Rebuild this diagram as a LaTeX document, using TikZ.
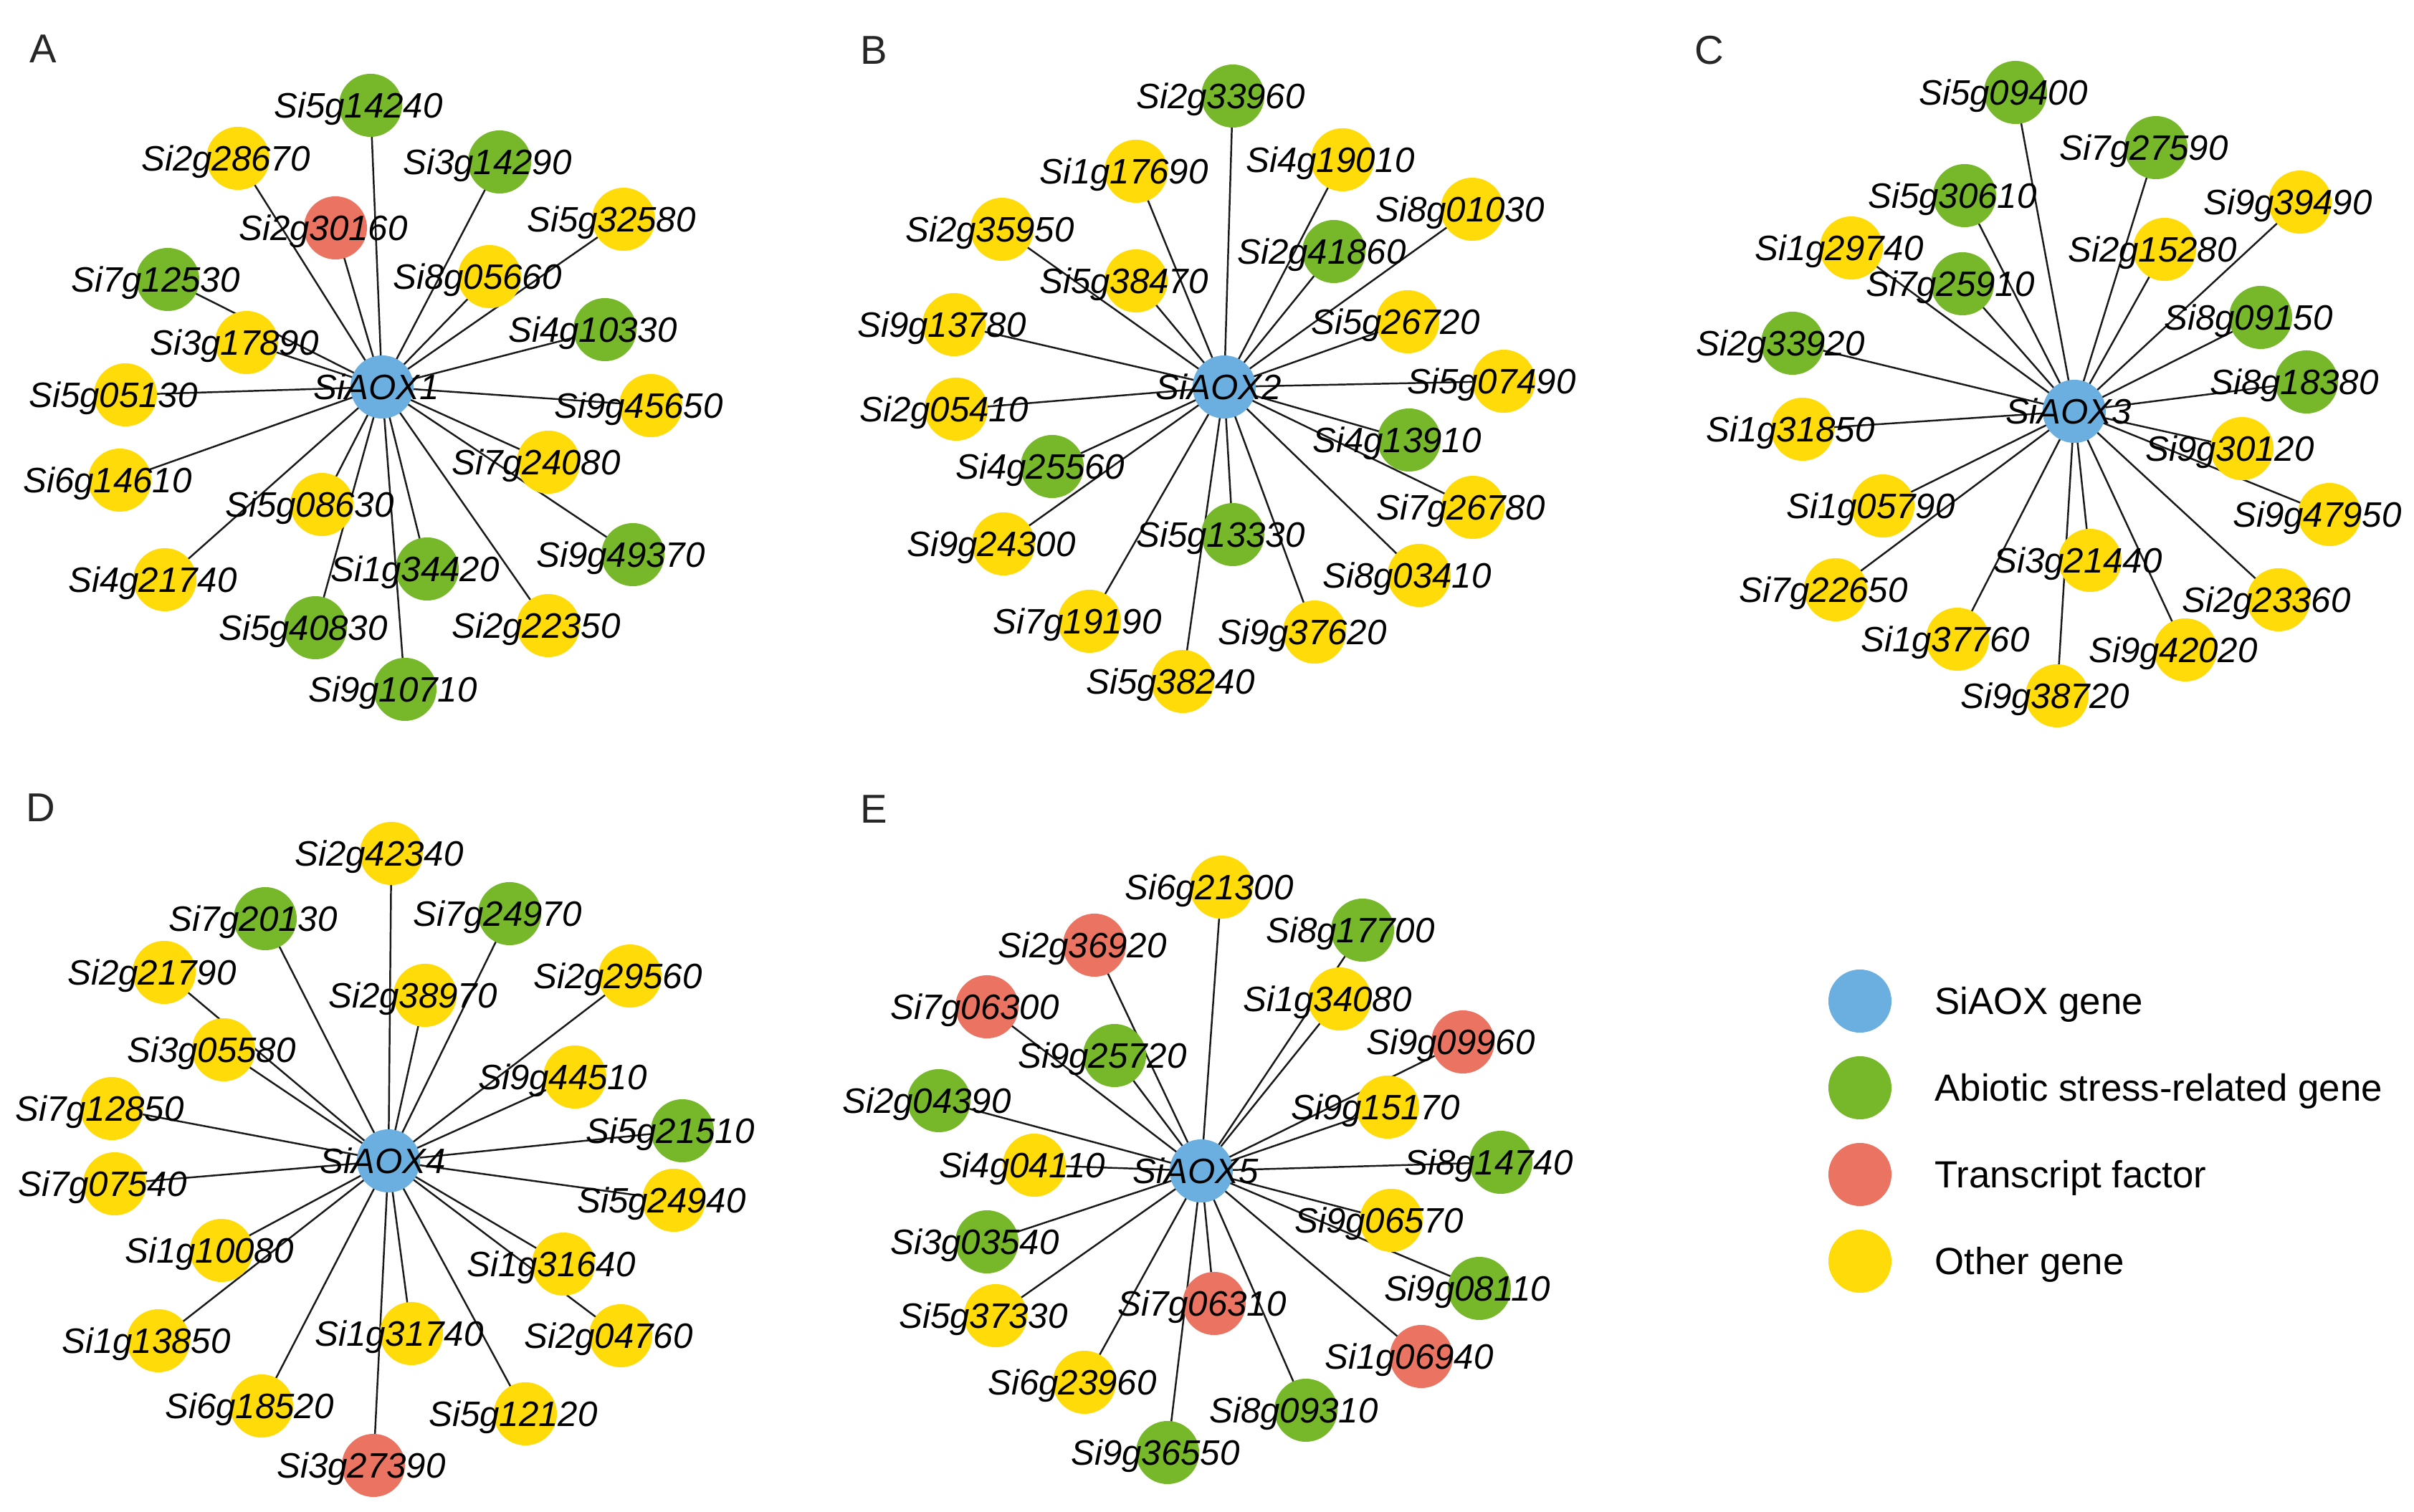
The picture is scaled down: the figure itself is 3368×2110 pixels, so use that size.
\documentclass[tikz,border=0pt]{standalone}
\usepackage{fontspec}
\setmainfont{Liberation Sans}
\usepackage{tikz}
\usetikzlibrary{positioning}

\pgfdeclarelayer{edges}
\pgfsetlayers{edges,main}

\definecolor{aoxblue}{RGB}{107,174,224}
\definecolor{abiogreen}{RGB}{118,184,42}
\definecolor{tfred}{RGB}{234,115,98}
\definecolor{othyellow}{RGB}{255,219,10}

\newcommand{\genefont}{\fontsize{14}{16}\selectfont\itshape}
\newcommand{\panelfont}{\fontsize{16}{18}\selectfont}
\newcommand{\keyfont}{\fontsize{15}{17}\selectfont}

\tikzset{
  gene/.style={circle, minimum size=0.88cm, inner sep=0pt},
  aox/.style={gene, fill=aoxblue},
  abio/.style={gene, fill=abiogreen},
  tf/.style={gene, fill=tfred},
  other/.style={gene, fill=othyellow},
  glabel/.style={font=\genefont, inner sep=0pt, xshift=-0.17cm, yshift=-1.4pt},
  alabel/.style={font=\genefont, inner sep=0pt, xshift=-0.08cm},
  gl/.style={label={[glabel]center:#1}},
  al/.style={label={[alabel]center:#1}},
  link/.style={black!90, line width=0.7pt},
  panel/.style={font=\panelfont, text=black!85, inner sep=0pt},
  keytext/.style={font=\keyfont, inner sep=0pt, anchor=west, yshift=-1.5pt}
}

\begin{document}
\begin{tikzpicture}[x=0.01cm, y=-0.01cm]
\useasboundingbox (0,0) rectangle (3368,2110);

% A
\node[panel] (pa) at (60,68) {A};
\node[aox, al=SiAOX1] (aox1) at (533,540) {};
\node[abio, gl=Si5g14240] (a1) at (517,147) {};
\node[other, gl=Si2g28670] (a2) at (332,221) {};
\node[abio, gl=Si3g14290] (a3) at (697,226) {};
\node[tf, gl=Si2g30160] (a4) at (468,318) {};
\node[other, gl=Si5g32580] (a5) at (870,306) {};
\node[abio, gl=Si7g12530] (a6) at (234,390) {};
\node[other, gl=Si8g05660] (a7) at (683,386) {};
\node[abio, gl=Si4g10330] (a8) at (844,460) {};
\node[other, gl=Si3g17890] (a9) at (344,478) {};
\node[other, gl=Si5g05130] (a10) at (175,551) {};
\node[other, gl=Si9g45650] (a11) at (908,566) {};
\node[other, gl=Si6g14610] (a12) at (167,670) {};
\node[other, gl=Si7g24080] (a13) at (765,645) {};
\node[other, gl=Si5g08630] (a14) at (449,704) {};
\node[other, gl=Si4g21740] (a15) at (230,809) {};
\node[abio, gl=Si1g34420] (a16) at (596,794) {};
\node[abio, gl=Si9g49370] (a17) at (883,774) {};
\node[abio, gl=Si5g40830] (a18) at (440,876) {};
\node[other, gl=Si2g22350] (a19) at (765,873) {};
\node[abio, gl=Si9g10710] (a20) at (565,962) {};

% B
\node[panel] (pb) at (1219,70) {B};
\node[aox, al=SiAOX2] (aox2) at (1708,540) {};
\node[abio, gl=Si2g33960] (b1) at (1720,134) {};
\node[other, gl=Si1g17690] (b2) at (1585,239) {};
\node[other, gl=Si4g19010] (b3) at (1873,223) {};
\node[other, gl=Si2g35950] (b4) at (1398,320) {};
\node[other, gl=Si8g01030] (b5) at (2054,292) {};
\node[abio, gl=Si2g41860] (b6) at (1861,351) {};
\node[other, gl=Si5g38470] (b7) at (1585,392) {};
\node[other, gl=Si9g13780] (b8) at (1331,453) {};
\node[other, gl=Si5g26720] (b9) at (1964,449) {};
\node[other, gl=Si5g07490] (b10) at (2098,532) {};
\node[other, gl=Si2g05410] (b11) at (1334,571) {};
\node[abio, gl=Si4g13910] (b12) at (1966,614) {};
\node[abio, gl=Si4g25560] (b13) at (1468,651) {};
\node[other, gl=Si7g26780] (b14) at (2055,708) {};
\node[other, gl=Si9g24300] (b15) at (1400,759) {};
\node[abio, gl=Si5g13330] (b16) at (1720,746) {};
\node[other, gl=Si8g03410] (b17) at (1980,803) {};
\node[other, gl=Si7g19190] (b18) at (1520,867) {};
\node[other, gl=Si9g37620] (b19) at (1834,882) {};
\node[other, gl=Si5g38240] (b20) at (1650,951) {};

% C
\node[panel] (pc) at (2385,70) {C};
\node[aox, al=SiAOX3] (aox3) at (2894,574) {};
\node[abio, gl=Si5g09400] (c1) at (2812,129) {};
\node[abio, gl=Si7g27590] (c2) at (3008,206) {};
\node[abio, gl=Si5g30610] (c3) at (2741,273) {};
\node[other, gl=Si9g39490] (c4) at (3209,282) {};
\node[other, gl=Si1g29740] (c5) at (2583,346) {};
\node[other, gl=Si2g15280] (c6) at (3020,348) {};
\node[abio, gl=Si7g25910] (c7) at (2738,396) {};
\node[abio, gl=Si8g09150] (c8) at (3154,443) {};
\node[abio, gl=Si2g33920] (c9) at (2501,479) {};
\node[abio, gl=Si8g18380] (c10) at (3218,533) {};
\node[other, gl=Si1g31850] (c11) at (2515,599) {};
\node[other, gl=Si9g30120] (c12) at (3128,626) {};
\node[other, gl=Si1g05790] (c13) at (2627,706) {};
\node[other, gl=Si9g47950] (c14) at (3250,718) {};
\node[other, gl=Si3g21440] (c15) at (2916,782) {};
\node[other, gl=Si7g22650] (c16) at (2561,823) {};
\node[other, gl=Si2g23360] (c17) at (3179,837) {};
\node[other, gl=Si1g37760] (c18) at (2731,892) {};
\node[other, gl=Si9g42020] (c19) at (3049,907) {};
\node[other, gl=Si9g38720] (c20) at (2870,971) {};

% D
\node[panel] (pd) at (57,1127) {D};
\node[aox, al=SiAOX4] (aox4) at (542,1620) {};
\node[other, gl=Si2g42340] (d1) at (546,1191) {};
\node[abio, gl=Si7g20130] (d2) at (370,1282) {};
\node[abio, gl=Si7g24970] (d3) at (711,1275) {};
\node[other, gl=Si2g21790] (d4) at (229,1357) {};
\node[other, gl=Si2g29560] (d5) at (879,1362) {};
\node[other, gl=Si2g38970] (d6) at (593,1389) {};
\node[other, gl=Si3g05580] (d7) at (312,1465) {};
\node[other, gl=Si9g44510] (d8) at (802,1503) {};
\node[other, gl=Si7g12850] (d9) at (156,1547) {};
\node[abio, gl=Si5g21510] (d10) at (952,1578) {};
\node[other, gl=Si7g07540] (d11) at (160,1652) {};
\node[other, gl=Si5g24940] (d12) at (940,1675) {};
\node[other, gl=Si1g10080] (d13) at (309,1745) {};
\node[other, gl=Si1g31640] (d14) at (786,1764) {};
\node[other, gl=Si1g13850] (d15) at (221,1871) {};
\node[other, gl=Si1g31740] (d16) at (574,1861) {};
\node[other, gl=Si2g04760] (d17) at (866,1864) {};
\node[other, gl=Si6g18520] (d18) at (365,1962) {};
\node[other, gl=Si5g12120] (d19) at (733,1973) {};
\node[tf, gl=Si3g27390] (d20) at (521,2045) {};

% E
\node[panel] (pe) at (1219,1129) {E};
\node[aox, al=SiAOX5] (aox5) at (1676,1634) {};
\node[other, gl=Si6g21300] (e1) at (1704,1238) {};
\node[abio, gl=Si8g17700] (e2) at (1901,1298) {};
\node[tf, gl=Si2g36920] (e3) at (1527,1319) {};
\node[other, gl=Si1g34080] (e4) at (1869,1394) {};
\node[tf, gl=Si7g06300] (e5) at (1377,1405) {};
\node[tf, gl=Si9g09960] (e6) at (2041,1454) {};
\node[abio, gl=Si9g25720] (e7) at (1555,1473) {};
\node[abio, gl=Si2g04390] (e8) at (1310,1536) {};
\node[other, gl=Si9g15170] (e9) at (1936,1545) {};
\node[other, gl=Si4g04110] (e10) at (1443,1626) {};
\node[abio, gl=Si8g14740] (e11) at (2094,1622) {};
\node[other, gl=Si9g06570] (e12) at (1941,1703) {};
\node[abio, gl=Si3g03540] (e13) at (1377,1733) {};
\node[abio, gl=Si9g08110] (e14) at (2064,1798) {};
\node[tf, gl=Si7g06310] (e15) at (1694,1819) {};
\node[other, gl=Si5g37330] (e16) at (1389,1836) {};
\node[tf, gl=Si1g06940] (e17) at (1983,1893) {};
\node[other, gl=Si6g23960] (e18) at (1513,1929) {};
\node[abio, gl=Si8g09310] (e19) at (1822,1968) {};
\node[abio, gl=Si9g36550] (e20) at (1629,2027) {};

% edges under the circles
\begin{pgfonlayer}{edges}
\fill[white] (0,0) rectangle (3368,2110);
\foreach \i in {1,...,20} {
  \draw[link] (aox1.center) -- (a\i.center);
  \draw[link] (aox2.center) -- (b\i.center);
  \draw[link] (aox3.center) -- (c\i.center);
  \draw[link] (aox4.center) -- (d\i.center);
  \draw[link] (aox5.center) -- (e\i.center);
}
\end{pgfonlayer}

% legend
\node[aox] (k1) at (2595,1397) {};
\node[abio] (k2) at (2595,1518) {};
\node[tf] (k3) at (2595,1639) {};
\node[other] (k4) at (2595,1760) {};
\node[keytext, right=0.59cm of k1] {SiAOX gene};
\node[keytext, right=0.59cm of k2] {Abiotic stress-related gene};
\node[keytext, right=0.59cm of k3] {Transcript factor};
\node[keytext, right=0.59cm of k4] {Other gene};
\end{tikzpicture}
\end{document}
